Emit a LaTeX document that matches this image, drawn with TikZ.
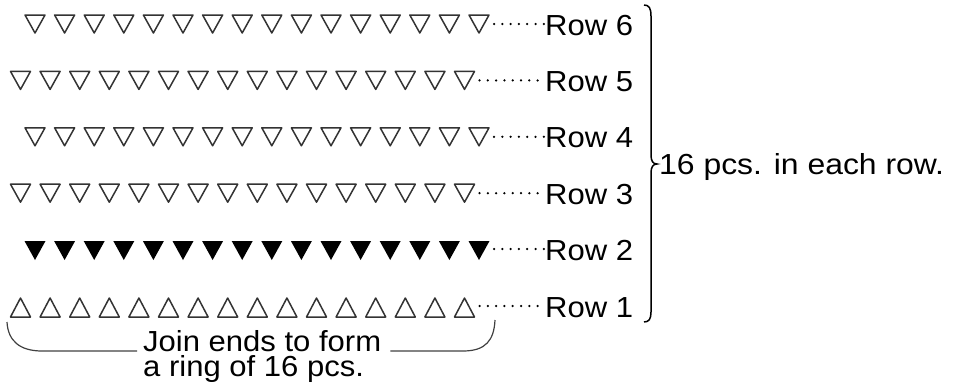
\documentclass[tikz,border=0pt]{standalone}
\usepackage{fontspec}
\setmainfont{Liberation Sans}
\newcommand{\wide}[1]{\scalebox{1.07}[1]{#1}}
\begin{document}
\begin{tikzpicture}[x=1pt, y=-1pt,
  every node/.style={font=\fontsize{29}{25}\selectfont, inner sep=0pt, anchor=base west},
  bead/.style={draw=black!80, line width=1.5pt, line join=round},
  leader/.style={dash pattern=on 0pt off 8.3pt, line cap=round, line width=2.5pt},
  thinline/.style={draw=black!75, line width=1.2pt}]
  \useasboundingbox (0,0) rectangle (956,383);

  % Rows 6 to 3: open beads pointing down
  \foreach \r/\x in {6/35, 5/20.5, 4/35, 3/20.5} {
    \pgfmathsetmacro{\b}{35 + (6-\r)*56.4}
    \foreach \i in {0,...,15}
      \draw[bead] ({\x+\i*29.6-10}, \b-20) -- ++(20,0) -- ++(-10,18) -- cycle;
    \coordinate (e\r) at ({\x+15*29.6+15}, \b-11);
    \node (row\r) at (545, \b) {\wide{Row \r}};
    \draw[leader] (e\r) -- (e\r -| row\r.west);
  }

  % Row 2: filled beads
  \foreach \i in {0,...,15}
    \fill[black] ({35+\i*29.6-10.5}, 241) -- ++(21,0) -- ++(-10.5,19) -- cycle;
  \coordinate (e2) at ({35+15*29.6+15}, 249);
  \node (row2) at (545, 260) {\wide{Row 2}};
  \draw[leader] (e2) -- (e2 -| row2.west);

  % Row 1: open beads pointing up
  \foreach \i in {0,...,15}
    \draw[bead] ({20.5+\i*29.6-10}, 317) -- ++(20,0) -- ++(-10,-19) -- cycle;
  \coordinate (e1) at ({20.5+15*29.6+15}, 306);
  \node (row1) at (545, 317) {\wide{Row 1}};
  \draw[leader] (e1) -- (e1 -| row1.west);

  % Brace
  \coordinate (btop) at (644,5);
  \coordinate (btip) at (657,164);
  \coordinate (bbot) at (644,322);
  \draw[line width=1.5pt] (btop) .. controls (649,5) and (651,8) .. (651,16)
    -- (651,155) .. controls (651,161) and (653,164) .. (btip)
    .. controls (653,164) and (651,167) .. (651,173)
    -- (651,312) .. controls (651,319) and (649,322) .. (bbot);
  \node (pcs) at (659,174) {\scalebox{1.1}[1]{16 pcs. in each row.}};

  % Ring note
  \node[anchor=north west, align=left] (note) at (143,330)
    {\wide{Join ends to form}\\\wide{a ring of 16 pcs.}};
  \coordinate (jy) at (0,351);
  \coordinate (jl) at (7,322);
  \coordinate (jr) at (495,320);
  \coordinate (nl) at ([xshift=-6pt]note.west);
  \coordinate (nr) at ([xshift=9pt]note.east);
  \draw[thinline] (jl) .. controls (8,341) and (20,351) .. (42,351)
    -- (nl |- jy);
  \draw[thinline] (nr |- jy) -- (463,351)
    .. controls (486,351) and (494,340) .. (jr);
\end{tikzpicture}
\end{document}
